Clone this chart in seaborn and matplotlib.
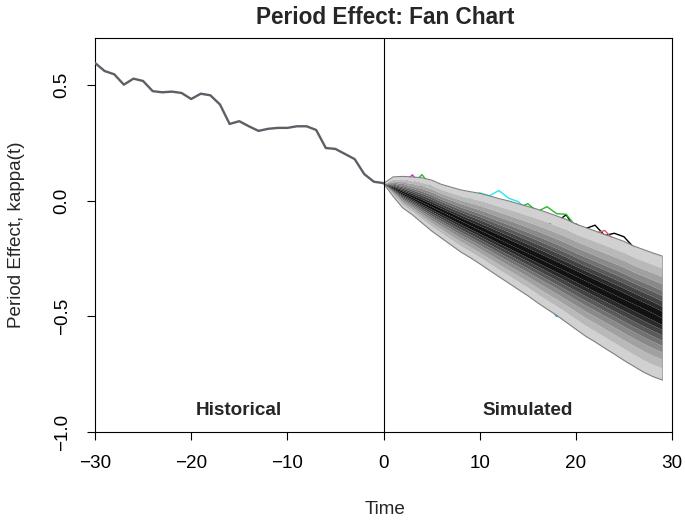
import numpy as np
import pandas as pd
import matplotlib
matplotlib.use("Agg")
import matplotlib.pyplot as plt
import seaborn as sns
from statistics import NormalDist

# ---------------- data ----------------
hist_years = list(range(-30, 1))
hist_kappa = [0.597, 0.562, 0.548, 0.503, 0.529, 0.519, 0.475, 0.470, 0.473, 0.467,
              0.441, 0.464, 0.457, 0.417, 0.333, 0.345, 0.323, 0.303, 0.312, 0.316,
              0.316, 0.323, 0.323, 0.307, 0.229, 0.225, 0.203, 0.181, 0.116, 0.083,
              0.077]

sim_years = list(range(0, 30))
sim_median = [0.075, 0.055, 0.035, 0.015, -0.005, -0.025, -0.045, -0.065, -0.085, -0.105,
              -0.125, -0.145, -0.165, -0.185, -0.205, -0.225, -0.245, -0.265, -0.285, -0.305,
              -0.325, -0.345, -0.365, -0.385, -0.405, -0.425, -0.445, -0.465, -0.485, -0.507]
sim_upper = [0.075, 0.104, 0.106, 0.104, 0.100, 0.090, 0.072, 0.060, 0.048, 0.040,
             0.033, 0.022, 0.010, 0.000, -0.012, -0.024, -0.036, -0.050, -0.065, -0.080,
             -0.100, -0.115, -0.130, -0.145, -0.160, -0.175, -0.195, -0.210, -0.225, -0.239]
sim_lower = [0.075, 0.020, -0.030, -0.060, -0.095, -0.130, -0.160, -0.190, -0.220, -0.245,
             -0.272, -0.300, -0.328, -0.355, -0.383, -0.410, -0.440, -0.468, -0.495, -0.525,
             -0.555, -0.585, -0.610, -0.637, -0.663, -0.690, -0.715, -0.740, -0.760, -0.775]
outer_prob = 0.99
band_probs = [0.97, 0.94, 0.90, 0.85, 0.80, 0.74, 0.67, 0.60]

# simulated sample paths (only partly visible above/below the fan)
path_magenta_x = [2, 3, 4]
path_magenta_y = [0.07, 0.113, 0.06]
path_green1_x = [3, 4, 5]
path_green1_y = [0.07, 0.114, 0.06]
path_cyan_x = [9, 10, 11, 12, 13, 14, 15]
path_cyan_y = [0.01, 0.035, 0.022, 0.045, 0.012, -0.003, -0.04]
path_green2_x = [14, 15, 16, 17, 18, 19, 20]
path_green2_y = [-0.03, -0.012, -0.046, -0.025, -0.055, -0.058, -0.11]
path_black_x = [17, 18, 19, 20, 21, 22, 23, 24, 25, 26, 27]
path_black_y = [-0.10, -0.09, -0.06, -0.125, -0.12, -0.105, -0.15, -0.14, -0.155, -0.20, -0.25]
path_red_x = [19, 20, 21, 22, 23, 24]
path_red_y = [-0.12, -0.098, -0.13, -0.14, -0.128, -0.17]
path_blue_x = [17, 18, 19]
path_blue_y = [-0.45, -0.50, -0.49]

# ---------------- style ----------------
sns.set_style("ticks")
plt.rcParams['font.family'] = ['Liberation Sans', 'DejaVu Sans']
plt.rcParams['axes.linewidth'] = 0.8

W, H = 685, 520
fig = plt.figure(figsize=(W / 100, H / 100), dpi=100)
ax = fig.add_axes([95 / W, (H - 432) / H, (672 - 95) / W, (432 - 38) / H])

# sample paths (drawn beneath fan)
paths = [(path_black_x, path_black_y, "black"), (path_red_x, path_red_y, "#DF536B"),
         (path_green1_x, path_green1_y, "#22BB22"), (path_green2_x, path_green2_y, "#22BB22"),
         (path_blue_x, path_blue_y, "#2297E6"), (path_cyan_x, path_cyan_y, "#22E6F0"),
         (path_magenta_x, path_magenta_y, "#E022E0")]
for px, py, c in paths:
    sns.lineplot(x=px, y=py, color=c, lw=1.0, ax=ax, zorder=1)

# fan
x = np.array(sim_years)
med = np.array(sim_median)
up = np.array(sim_upper)
lo = np.array(sim_lower)
z_outer = NormalDist().inv_cdf(outer_prob)
probs = [outer_prob] + band_probs + [0.5]
zs = [NormalDist().inv_cdf(p) for p in probs]
n = len(probs) - 1
shades = np.linspace(0.82, 0.07, n)
for i in range(n):
    f1 = zs[i] / z_outer
    f2 = zs[i + 1] / z_outer
    g = str(shades[i])
    ax.fill_between(x, med + (up - med) * f1, med + (up - med) * f2, color=g, lw=0, zorder=2)
    ax.fill_between(x, med - (med - lo) * f2, med - (med - lo) * f1, color=g, lw=0, zorder=2)
ax.plot(x, up, color="#808080", lw=0.8, zorder=3)
ax.plot(x, lo, color="#808080", lw=0.8, zorder=3)
ax.plot([x[-1], x[-1]], [lo[-1], up[-1]], color="#a0a0a0", lw=0.6, zorder=3)

# historical
hist = pd.DataFrame({"Time": hist_years, "kappa": hist_kappa})
sns.lineplot(data=hist, x="Time", y="kappa", color="#5e5e66", lw=1.7, ax=ax, zorder=4)

ax.axvline(0, color="black", lw=0.8, zorder=5)

ax.set_xlim(-30, 30)
ax.set_ylim(-1.0, 0.705)
ax.set_xticks([-30, -20, -10, 0, 10, 20, 30])
ax.set_xticklabels(["\u221230", "\u221220", "\u221210", "0", "10", "20", "30"])
ax.set_yticks([-1.0, -0.5, 0.0, 0.5])
ax.set_yticklabels(["\u22121.0", "\u22120.5", "0.0", "0.5"], rotation=90, va="center")
ax.tick_params(axis="both", direction="out", length=5.5, width=0.8, labelsize=13.6, colors="black")
ax.tick_params(axis="x", pad=11)
ax.tick_params(axis="y", pad=12)
ax.set_xlabel("")
ax.set_ylabel("")

fs = 13.6
fig.text(385 / W, 1 - 510 / H, "Time", ha="center", va="center", fontsize=fs)
fig.text(17 / W, 1 - 235 / H, "Period Effect, kappa(t)", ha="center", va="center",
         rotation=90, fontsize=fs)
fig.text(385 / W, 1 - 17 / H, "Period Effect: Fan Chart", ha="center", va="center",
         fontsize=16.3, fontweight="bold")

ax.text(-15, -0.909, "Historical", ha="center", va="center", fontsize=fs, fontweight="bold")
ax.text(15, -0.909, "Simulated", ha="center", va="center", fontsize=fs, fontweight="bold")

for s in ax.spines.values():
    s.set_visible(True)
    s.set_color("black")

fig.savefig("out.png", dpi=100)
